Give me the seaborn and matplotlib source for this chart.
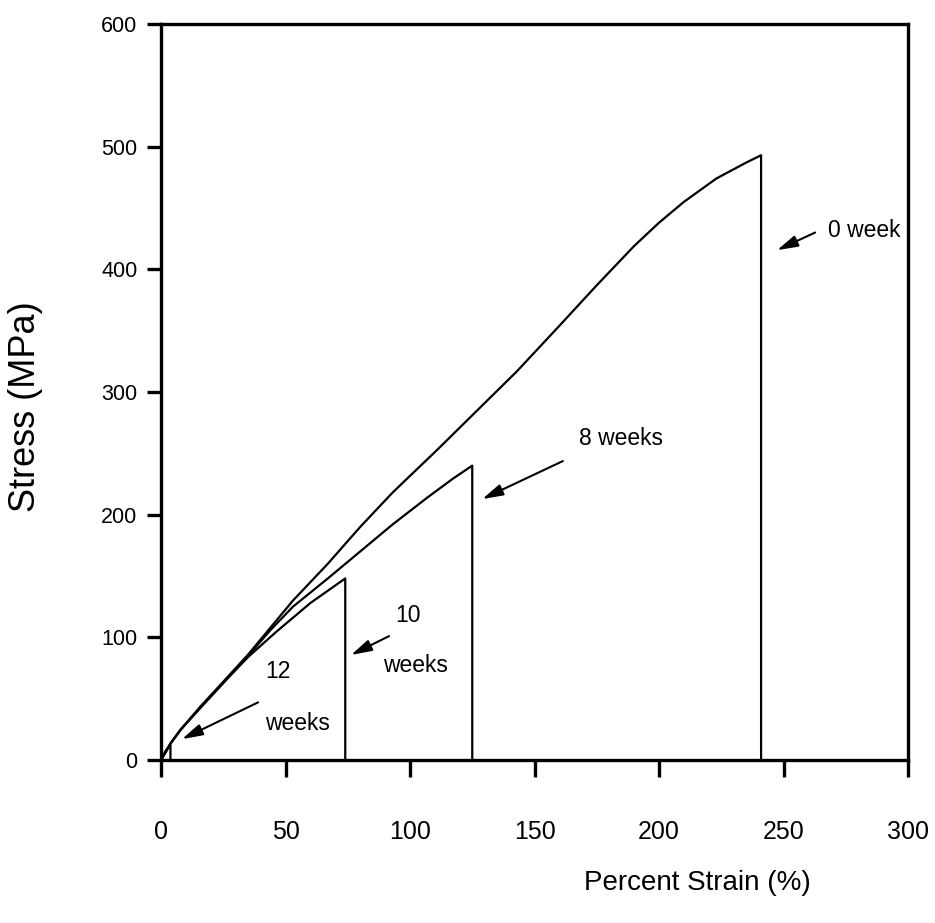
import matplotlib
matplotlib.use("Agg")
import matplotlib.pyplot as plt
import seaborn as sns
import pandas as pd

# ---- data ----
strain_0wk = [0, 4, 8, 16, 26, 35, 44, 53, 67, 80, 93, 111, 125, 143, 160, 175, 190, 200, 210, 223, 235, 241, 241]
stress_0wk = [0, 14, 25, 44, 66, 86, 108, 130, 160, 190, 218, 253, 281, 317, 354, 387, 419, 438, 455, 474, 487, 493, 0]

strain_8wk = [0, 4, 8, 16, 26, 35, 44, 53, 67, 80, 93, 107, 117, 125, 125]
stress_8wk = [0, 14, 25, 43, 65, 85, 106, 125, 148, 170, 192, 214, 229, 240, 0]

strain_10wk = [0, 4, 8, 16, 26, 35, 46, 60, 74, 74]
stress_10wk = [0, 14, 25, 43, 65, 84, 104, 128, 148, 0]

strain_12wk = [0, 2, 3.8, 3.8]
stress_12wk = [0, 8, 12, 0]

x_ticks = [0, 50, 100, 150, 200, 250, 300]
y_ticks = [0, 100, 200, 300, 400, 500, 600]

series = {
    "0 week": (strain_0wk, stress_0wk),
    "8 weeks": (strain_8wk, stress_8wk),
    "10 weeks": (strain_10wk, stress_10wk),
    "12 weeks": (strain_12wk, stress_12wk),
}

frames = []
for name, (xs, ys) in series.items():
    frames.append(pd.DataFrame({"strain": xs, "stress": ys, "sample": name}))
df = pd.concat(frames, ignore_index=True)

sns.set_theme(style="white")
plt.rcParams["font.family"] = ["Liberation Sans", "DejaVu Sans"]

fig = plt.figure(figsize=(9.35, 9.23), dpi=100)
ax = fig.add_axes([161 / 935, 1 - 760 / 923, 747 / 935, 736 / 923])

for name in series:
    sub = df[df["sample"] == name]
    sns.lineplot(data=sub, x="strain", y="stress", sort=False, estimator=None,
                 color="black", linewidth=1.6, ax=ax, legend=False)

ax.set_xlim(0, 300)
ax.set_ylim(0, 600)
ax.set_xticks(x_ticks)
ax.set_yticks(y_ticks)
ax.set_xticklabels([str(v) for v in x_ticks],
                   fontfamily=["Liberation Sans Narrow", "Liberation Sans"], fontsize=18)
ax.set_yticklabels([str(v) for v in y_ticks], fontsize=15.5)

for sp in ax.spines.values():
    sp.set_visible(True)
    sp.set_color("black")
    sp.set_linewidth(2.4)

ax.tick_params(axis="x", which="both", direction="out", length=12, width=2.4,
               bottom=True, top=False, pad=31, colors="black")
ax.tick_params(axis="y", which="both", direction="out", length=10, width=2.4,
               left=True, right=False, pad=7, colors="black")

ax.set_xlabel("Percent Strain (%)", fontsize=20, color="black")
ax.set_ylabel("Stress (MPa)", fontsize=26, color="black")
ax.xaxis.set_label_coords(0.7175, -0.150)
ax.yaxis.set_label_coords(-0.158, 0.48)

arrow = dict(arrowstyle="-|>,head_length=0.9,head_width=0.25", color="black",
             lw=1.5, shrinkA=0, shrinkB=0, mutation_scale=14)

ax.annotate("", xy=(247.4, 415.6), xytext=(262.7, 430), arrowprops=arrow)
ax.text(268, 432, "0 week", fontsize=16.5, ha="left", va="center", color="black")

ax.annotate("", xy=(129, 212.7), xytext=(161.4, 243.7), arrowprops=arrow)
ax.text(168, 262, "8 weeks", fontsize=16.5, ha="left", va="center", color="black")

ax.annotate("", xy=(76.3, 85.6), xytext=(91.6, 101), arrowprops=arrow)
ax.text(99, 118, "10", fontsize=16.5, ha="center", va="center", color="black")
ax.text(102, 77, "weeks", fontsize=16.5, ha="center", va="center", color="black")

ax.annotate("", xy=(8.4, 17), xytext=(39, 47), arrowprops=arrow)
ax.text(47, 72, "12", fontsize=16.5, ha="center", va="center", color="black")
ax.text(55, 30, "weeks", fontsize=16.5, ha="center", va="center", color="black")

ax.grid(False)
fig.savefig("out.png", dpi=100, facecolor="white")
